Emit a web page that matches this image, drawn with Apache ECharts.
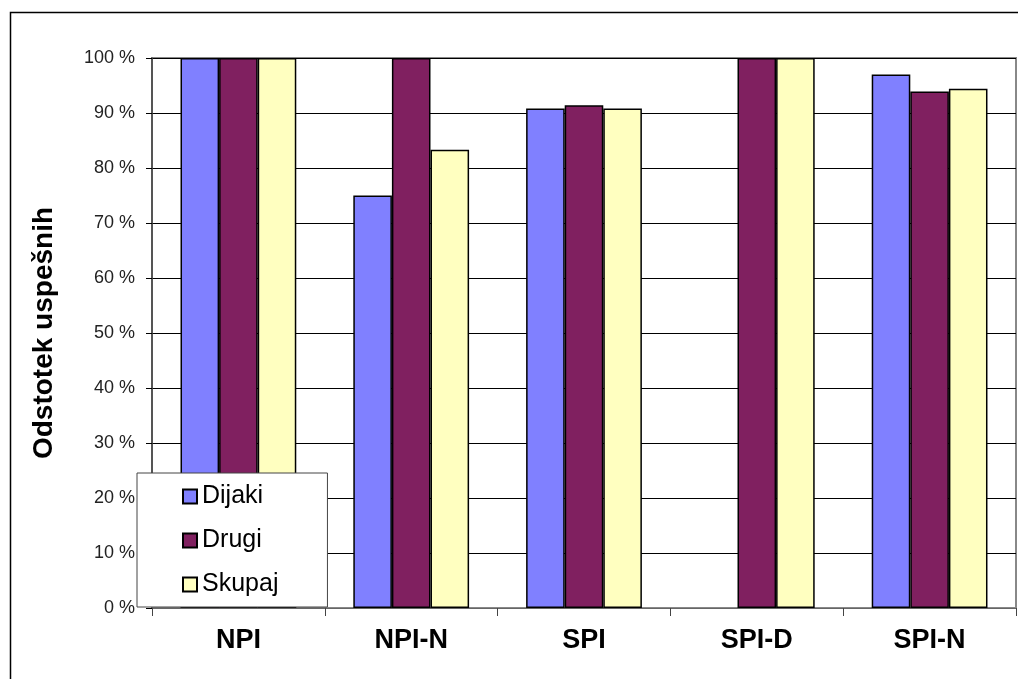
<!DOCTYPE html>
<html>
<head>
<meta charset="utf-8">
<script src="https://cdn.jsdelivr.net/npm/echarts@6/dist/echarts.min.js"></script>
<style>html,body{margin:0;padding:0;background:#fff;}#c{width:1018px;height:679px;}</style>
</head>
<body>
<div id="c"></div>
<script>
const categories = ['NPI', 'NPI-N', 'SPI', 'SPI-D', 'SPI-N'];
const seriesNames = ['Dijaki', 'Drugi', 'Skupaj'];
const dijaki = [100, 75, 90.8, '-', 97.0];
const drugi = [100, 100, 91.4, 100, 93.9];
const skupaj = [100, 83.3, 90.8, 100, 94.4];
const yTicks = [0, 10, 20, 30, 40, 50, 60, 70, 80, 90, 100];
const colors = ['#8080FF', '#802060', '#FFFFC0'];

const chart = echarts.init(document.getElementById('c'));
const font = 'Arial, "Liberation Sans", sans-serif';
const mk = (name, data, color) => ({
  name, type: 'bar', data, barGap: '0%', barCategoryGap: '33%',
  itemStyle: { color, borderColor: '#000', borderWidth: 1.5 },
  emphasis: { disabled: true }
});
chart.setOption({
  animation: false,
  textStyle: { fontFamily: font },
  graphic: [
    { type: 'rect', shape: { x: 10.5, y: 12.5, width: 1200, height: 1000 }, style: { fill: 'none', stroke: '#000', lineWidth: 1.5 }, z: -10 },
    { type: 'rect', shape: { x: 152, y: 58, width: 864, height: 550 }, style: { fill: 'none', stroke: '#888', lineWidth: 2 }, z: 0, silent: true }
  ],
  grid: { left: 152, right: 2, top: 58, bottom: 71 },
  legend: {
    orient: 'vertical', left: 137, top: 473,
    data: seriesNames,
    itemWidth: 14, itemHeight: 14, itemGap: 19, itemTextGap: 6,
    padding: [11, 49, 10, 45],
    backgroundColor: '#fff', borderColor: '#444', borderWidth: 1,
    textStyle: { fontSize: 25, color: '#000', fontFamily: font },
    icon: 'rect', selectedMode: false
  },
  xAxis: {
    type: 'category', data: categories,
    axisLine: { lineStyle: { color: '#888', width: 1.5 } },
    axisTick: { show: true, length: 8, lineStyle: { color: '#444' } },
    axisLabel: { fontSize: 27, fontWeight: 'bold', color: '#000', margin: 19 }
  },
  yAxis: {
    type: 'value', min: 0, max: 100, interval: 10,
    name: 'Odstotek uspešnih', nameLocation: 'middle', nameGap: 94,
    nameTextStyle: { fontSize: 28, fontWeight: 'bold', color: '#000' },
    axisLine: { show: true, lineStyle: { color: '#444', width: 1.5 } },
    axisTick: { show: true, length: 6, lineStyle: { color: '#000' } },
    axisLabel: { fontSize: 18, color: '#222', margin: 17, formatter: v => yTicks.includes(v) ? v + ' %' : '' },
    splitLine: { lineStyle: { color: '#000', width: 1.2 } }
  },
  series: [mk(seriesNames[0], dijaki, colors[0]), mk(seriesNames[1], drugi, colors[1]), mk(seriesNames[2], skupaj, colors[2])]
});
</script>
</body>
</html>
